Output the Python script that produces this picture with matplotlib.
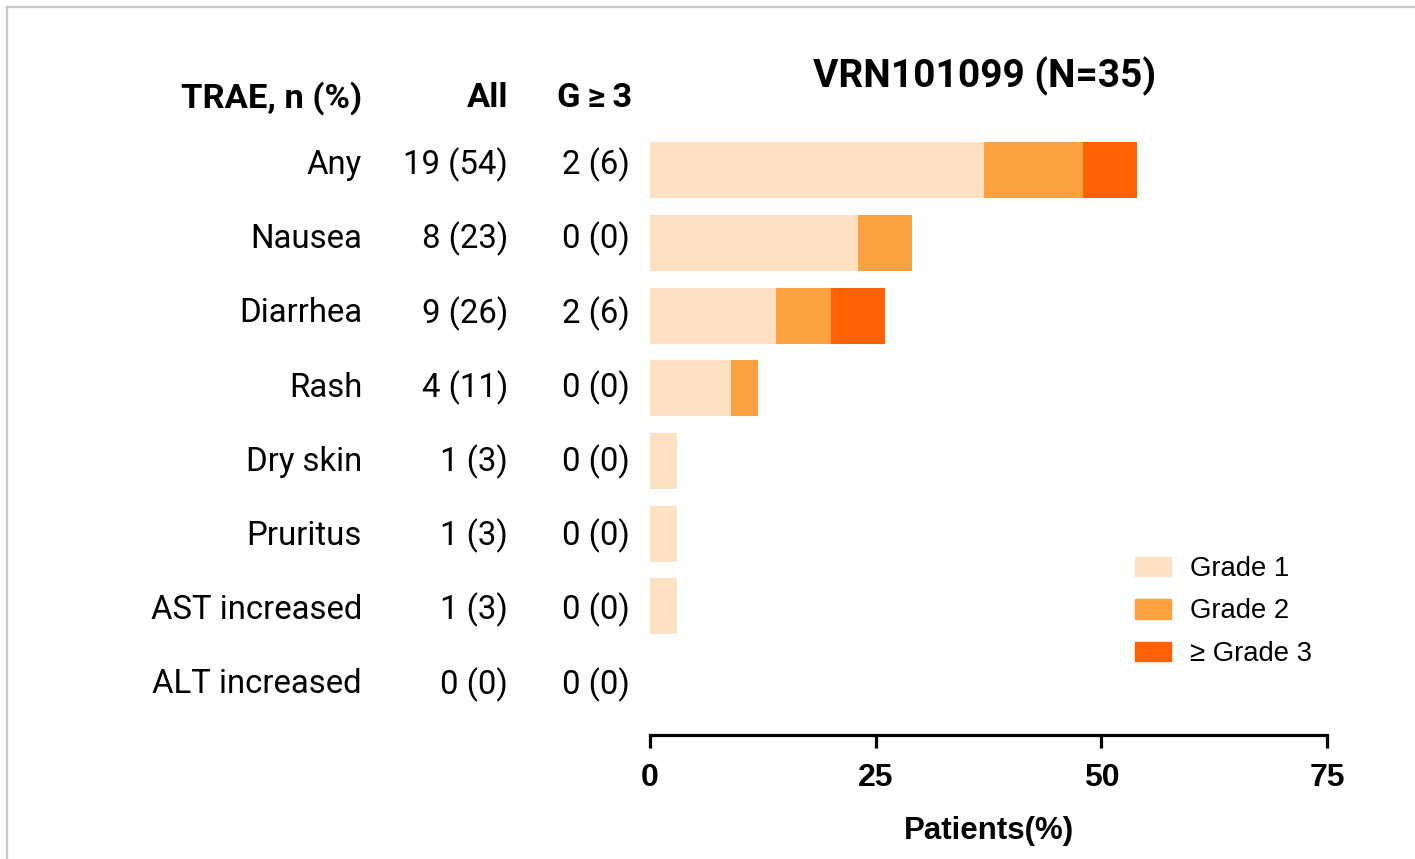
import matplotlib
matplotlib.use("Agg")
import matplotlib.pyplot as plt
from matplotlib.patches import Patch
from matplotlib.lines import Line2D

# data
categories = ["Any", "Nausea", "Diarrhea", "Rash", "Dry skin", "Pruritus",
              "AST increased", "ALT increased"]
all_col = ["19 (54)", "8 (23)", "9 (26)", "4 (11)", "1 (3)", "1 (3)", "1 (3)", "0 (0)"]
g3_col = ["2 (6)", "0 (0)", "2 (6)", "0 (0)", "0 (0)", "0 (0)", "0 (0)", "0 (0)"]
grade1 = [37, 23, 14, 9, 3, 3, 3, 0]
grade2 = [11, 6, 6, 3, 0, 0, 0, 0]
grade3 = [6, 0, 6, 0, 0, 0, 0, 0]
xticks = [0, 25, 50, 75]

c1, c2, c3 = "#FEE0C2", "#FDA042", "#FF6000"
W, H = 1415, 859

fig = plt.figure(figsize=(W / 100, H / 100), dpi=100)
ax = fig.add_axes([650 / W, 1 - 735 / H, 677 / W, 615 / H])

y = list(range(len(categories)))
left3 = [a + b for a, b in zip(grade1, grade2)]
ax.barh(y, grade1, height=0.77, color=c1, label="Grade 1")
ax.barh(y, grade2, left=grade1, height=0.77, color=c2, label="Grade 2")
ax.barh(y, grade3, left=left3, height=0.77, color=c3, label="\u2265 Grade 3")

ax.set_xlim(0, 75)
ax.set_ylim(7.77, -0.69)
ax.set_yticks([])
ax.set_xticks(xticks)
for s in ["top", "right", "left"]:
    ax.spines[s].set_visible(False)
ax.spines["bottom"].set_linewidth(2.3)
ax.tick_params(axis="x", length=9.5, width=2.3, pad=11, direction="out")
narrow = ["Liberation Sans Narrow", "Liberation Sans", "DejaVu Sans"]
for lab in ax.get_xticklabels():
    lab.set_fontfamily(narrow)
    lab.set_fontweight("bold")
    lab.set_fontsize(23)
ax.set_xlabel("Patients(%)", fontsize=22.5, fontweight="bold", family=narrow, labelpad=16)

# table on the left (rows spaced a bit wider than the bars, as in the reference)
rob = ["Roboto", "DejaVu Sans"]
for i, cat in enumerate(categories):
    ty = 1 - (165 + 74.2 * i) / H
    fig.text(362 / W, ty, cat, ha="right", va="center", fontsize=23.7, family=rob)
    fig.text(508 / W, ty, all_col[i], ha="right", va="center", fontsize=23.7, family=rob)
    fig.text(630 / W, ty, g3_col[i], ha="right", va="center", fontsize=23.7, family=rob)

hy = 1 - 98 / H
fig.text(362 / W, hy, "TRAE, n (%)", ha="right", va="center", fontsize=24.8, fontweight="bold", family=rob)
fig.text(508 / W, hy, "All", ha="right", va="center", fontsize=24.8, fontweight="bold", family=rob)
fig.text(632 / W, hy, "G\u2009\u2265\u20093", ha="right", va="center", fontsize=24.8, fontweight="bold", family=rob)

fig.text(985 / W, 1 - 76 / H, "VRN101099 (N=35)", ha="center", va="center",
         fontsize=28, fontweight="bold", family=rob)

handles = [Patch(color=c1), Patch(color=c2), Patch(color=c3)]
fig.legend(handles, ["Grade 1", "Grade 2", "\u2265 Grade 3"], loc="upper left",
           bbox_to_anchor=(1135 / W, 1 - 556 / H), frameon=False, borderpad=0,
           borderaxespad=0, handlelength=1.3, handleheight=0.72, handletextpad=0.7,
           labelspacing=0.6, prop={"family": ["Liberation Sans", "DejaVu Sans"], "size": 19.8})

# light frame at the top-left
fig.add_artist(Line2D([7 / W, 7 / W], [0, 1 - 7 / H], color="#c8c8c8", lw=1.6, transform=fig.transFigure))
fig.add_artist(Line2D([7 / W, 1], [1 - 7 / H, 1 - 7 / H], color="#c8c8c8", lw=1.6, transform=fig.transFigure))

fig.savefig("out.png", dpi=100)
